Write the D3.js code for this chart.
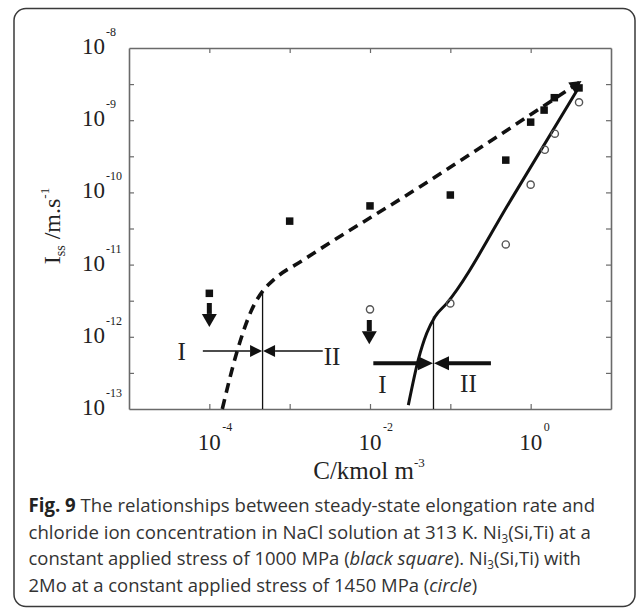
<!DOCTYPE html>
<html><head><meta charset="utf-8">
<script src="https://cdn.jsdelivr.net/npm/d3@7"></script>
<style>body{margin:0;background:#fff}</style>
</head><body>
<svg id="c" width="637" height="610"></svg>
<script>
// ---- data ----
const squareC = [1e-4, 1e-3, 1e-2, 0.1, 0.49, 1.0, 1.47, 1.97, 4.0];
const squareI = [4.0e-12, 4.0e-11, 6.5e-11, 9.2e-11, 2.8e-10, 9.4e-10, 1.38e-9, 2.05e-9, 2.8e-9];
const circleC = [1e-2, 0.1, 0.49, 1.0, 1.5, 2.0, 4.0];
const circleI = [2.4e-12, 2.9e-12, 1.9e-11, 1.28e-10, 3.9e-10, 6.5e-10, 1.77e-9];
const dashC = [1.45e-4, 2.19e-4, 3.36e-4, 4.7e-4, 6.25e-4, 1.48e-3, 0.042, 4.3];
const dashI = [1e-13, 6e-13, 2.35e-12, 4.4e-12, 6.1e-12, 1.16e-11, 1.2e-10, 3.5e-9];
const solidC = [0.030, 0.0399, 0.0508, 0.0644, 0.0901, 0.58, 3.78];
const solidI = [1.13e-13, 4.8e-13, 1.12e-12, 1.9e-12, 2.9e-12, 8.2e-11, 2.6e-9];
const xTickValues = [1e-4, 1e-3, 1e-2, 1e-1, 1];
const xLabelExps = [-4, -2, 0];
const yTickExps = [-12.5, -12, -11.5, -11, -10.5, -10, -9.5, -9, -8.5];
const yLabelExps = [-8, -9, -10, -11, -12, -13];
// region boundaries and annotations
const boundaryC = [4.6e-4, 0.0617];
const boundaryTopI = [4.05e-12, 1.9e-12];
const regionArrowI = [6.35e-13, 4.3e-13];
const regionArrowLeftC = [8.3e-5, 0.011];
const regionArrowRightC = [2.58e-3, 0.32];
const dropC = [1e-4, 9.8e-3];
const dropFromI = [2.94e-12, 1.71e-12];
const dropToI = [1.37e-12, 7.9e-13];
const regionLabelText = ["I", "II", "I", "II"];
const regionLabelC = [4.53e-5, 3.37e-3, 1.43e-2, 0.168];
const regionLabelI = [4.77e-13, 4.07e-13, 1.67e-13, 1.72e-13];

const svg = d3.select("#c");
const serif = "'Liberation Serif','Times New Roman',serif";
const sans = "'Open Sans','Noto Sans',sans-serif";

// card
svg.append("rect").attr("x", 14).attr("y", 8.5).attr("width", 621).attr("height", 598)
  .attr("rx", 12).attr("fill", "#fff").attr("stroke", "#3a3a3a").attr("stroke-width", 1.5);

const x = d3.scaleLog().domain([1e-5, 10]).range([129, 611]);
const y = d3.scaleLog().domain([1e-13, 1e-8]).range([409, 48]);

const axCol = "#6a6a6a";
function styleAxis(g) {
  g.selectAll("path.domain").attr("stroke", axCol).attr("stroke-width", 1.6);
  g.selectAll(".tick line").attr("stroke", axCol).attr("stroke-width", 1.2);
}
svg.append("g").attr("transform", "translate(0,409)")
  .call(d3.axisBottom(x).tickValues(xTickValues).tickSize(-5).tickSizeOuter(0).tickFormat(""))
  .call(styleAxis);
svg.append("g").attr("transform", "translate(0,48)")
  .call(d3.axisTop(x).tickValues(xTickValues).tickSize(-5).tickSizeOuter(0).tickFormat(""))
  .call(styleAxis);
const yTicks = yTickExps.map(e => Math.pow(10, e));
svg.append("g").attr("transform", "translate(129,0)")
  .call(d3.axisLeft(y).tickValues(yTicks).tickSize(-5).tickSizeOuter(0).tickFormat(""))
  .call(styleAxis);
svg.append("g").attr("transform", "translate(611,0)")
  .call(d3.axisRight(y).tickValues(yTicks).tickSize(-5).tickSizeOuter(0).tickFormat(""))
  .call(styleAxis);

const txtCol = "#222";
// y tick labels
yLabelExps.forEach(e => {
  const py = y(Math.pow(10, e));
  svg.append("text").attr("x", 105).attr("y", py + 6).attr("text-anchor", "end")
    .attr("font-family", serif).attr("font-size", 23).attr("fill", txtCol).text("10");
  svg.append("text").attr("x", 106).attr("y", py - 12).attr("text-anchor", "start")
    .attr("font-family", serif).attr("font-size", 12).attr("fill", txtCol).text(String(e));
});
// x tick labels
xLabelExps.forEach(e => {
  const px = x(Math.pow(10, e));
  svg.append("text").attr("x", px).attr("y", 450).attr("text-anchor", "middle")
    .attr("font-family", serif).attr("font-size", 23).attr("fill", txtCol).text("10");
  svg.append("text").attr("x", px + 13).attr("y", 431).attr("text-anchor", "start")
    .attr("font-family", serif).attr("font-size", 12).attr("fill", txtCol).text(String(e));
});
// axis titles
const xt = svg.append("text").attr("x", 369).attr("y", 479).attr("text-anchor", "middle")
  .attr("font-family", serif).attr("font-size", 25).attr("fill", txtCol);
xt.append("tspan").text("C/kmol m");
xt.append("tspan").attr("font-size", 13).attr("dy", -12).text("-3");

const yt = svg.append("text").attr("transform", "translate(60,226) rotate(-90)")
  .attr("text-anchor", "middle").attr("font-family", serif).attr("font-size", 24).attr("fill", txtCol);
yt.append("tspan").text("I");
yt.append("tspan").attr("font-size", 14).attr("dy", 5).text("ss");
yt.append("tspan").attr("dy", -5).text(" /m.s");
yt.append("tspan").attr("font-size", 13).attr("dy", -11).text("-1");

// curves
const ink = "#111";
const line = d3.line().x(d => x(d[0])).y(d => y(d[1])).curve(d3.curveMonotoneX);
const dashPts = dashC.map((c, i) => [c, dashI[i]]);
svg.append("path").attr("d", line(dashPts)).attr("fill", "none").attr("stroke", ink)
  .attr("stroke-width", 3.6).attr("stroke-dasharray", "10,6.5");
// arrow head at end of dashed line
{
  const a = dashPts[dashPts.length - 2], b = dashPts[dashPts.length - 1];
  const x1 = x(a[0]), y1 = y(a[1]), x2 = x(b[0]), y2 = y(b[1]);
  const ang = Math.atan2(y2 - y1, x2 - x1);
  const L = 12, W = 6;
  const bx = x2 - L * Math.cos(ang), by = y2 - L * Math.sin(ang);
  const nx = -Math.sin(ang), ny = Math.cos(ang);
  svg.append("path").attr("d", `M${x2},${y2}L${bx + W * nx},${by + W * ny}L${bx - W * nx},${by - W * ny}Z`)
    .attr("fill", ink);
}
const solidPts = solidC.map((c, i) => [c, solidI[i]]);
svg.append("path").attr("d", line(solidPts)).attr("fill", "none").attr("stroke", ink)
  .attr("stroke-width", 3);

// boundaries
boundaryC.forEach((c, i) => {
  svg.append("line").attr("x1", x(c)).attr("x2", x(c)).attr("y1", y(boundaryTopI[i])).attr("y2", y(1e-13))
    .attr("stroke", ink).attr("stroke-width", 1.3);
});
// horizontal region arrows
const arrowW = [1.4, 4];
const headL = [12, 15], headH = [6, 7];
function hArrow(fromPx, toPx, py, k) {
  const dir = Math.sign(toPx - fromPx);
  const base = toPx - dir * headL[k];
  svg.append("line").attr("x1", fromPx).attr("x2", base).attr("y1", py).attr("y2", py)
    .attr("stroke", ink).attr("stroke-width", arrowW[k]);
  svg.append("path").attr("d", `M${toPx},${py}L${base},${py - headH[k]}L${base},${py + headH[k]}Z`).attr("fill", ink);
}
boundaryC.forEach((c, k) => {
  const py = y(regionArrowI[k]);
  hArrow(x(regionArrowLeftC[k]), x(c) - 0.5, py, k);
  hArrow(x(regionArrowRightC[k]), x(c) + 0.5, py, k);
});
// down arrows
dropC.forEach((c, i) => {
  const px = x(c), y0 = y(dropFromI[i]), y1 = y(dropToI[i]);
  const hl = 13, hw = 7.5;
  svg.append("line").attr("x1", px).attr("x2", px).attr("y1", y0).attr("y2", y1 - hl)
    .attr("stroke", ink).attr("stroke-width", 5);
  svg.append("path").attr("d", `M${px},${y1}L${px - hw},${y1 - hl}L${px + hw},${y1 - hl}Z`).attr("fill", ink);
});
// region labels
regionLabelText.forEach((t, i) => {
  svg.append("text").attr("x", x(regionLabelC[i])).attr("y", y(regionLabelI[i]))
    .attr("text-anchor", "middle").attr("font-family", serif).attr("font-size", 25)
    .attr("fill", txtCol).text(t);
});

// markers
const sq = 7.5;
svg.append("g").selectAll("rect").data(squareC).join("rect")
  .attr("x", (d) => x(d) - sq / 2).attr("y", (d, i) => y(squareI[i]) - sq / 2)
  .attr("width", sq).attr("height", sq).attr("fill", ink);
svg.append("g").selectAll("circle").data(circleC).join("circle")
  .attr("cx", d => x(d)).attr("cy", (d, i) => y(circleI[i])).attr("r", 3.6)
  .attr("fill", "none").attr("stroke", "#555").attr("stroke-width", 1.4);

// caption
const capCol = "#333";
const capLines = [
  [["Fig. 9", "bold"], [" The relationships between steady-state elongation rate and", ""]],
  [["chloride ion concentration in NaCl solution at 313 K. Ni", ""], ["3", "sub"], ["(Si,Ti) at a", ""]],
  [["constant applied stress of 1000 MPa (", ""], ["black square", "italic"], ["). Ni", ""], ["3", "sub"], ["(Si,Ti) with", ""]],
  [["2Mo at a constant applied stress of 1450 MPa (", ""], ["circle", "italic"], [")", ""]]
];
const capWidths = [567, 563, 553, 449];
const capBase = [512, 538.5, 565, 591.5];
capLines.forEach((parts, li) => {
  const t = svg.append("text").attr("x", 0).attr("y", 0)
    .attr("font-family", sans).attr("font-size", 19).attr("fill", capCol);
  parts.forEach(([s, st]) => {
    const ts = t.append("tspan").text(s);
    if (st === "bold") ts.attr("font-weight", "bold").attr("fill", "#222");
    if (st === "italic") ts.attr("font-style", "italic");
    if (st === "sub") { ts.attr("font-size", 12).attr("dy", 4); }
  });
  // restore baseline after subscripts
  t.selectAll("tspan").each(function (d, i, n) {
    const prev = i > 0 ? d3.select(n[i - 1]) : null;
    if (prev && prev.attr("dy") === "4" && d3.select(this).attr("dy") == null) d3.select(this).attr("dy", -4);
  });
  const w = t.node().getComputedTextLength();
  const sx = capWidths[li] / w;
  t.attr("transform", `translate(28.5,${capBase[li]}) scale(${sx},1)`);
});
</script>
</body></html>
